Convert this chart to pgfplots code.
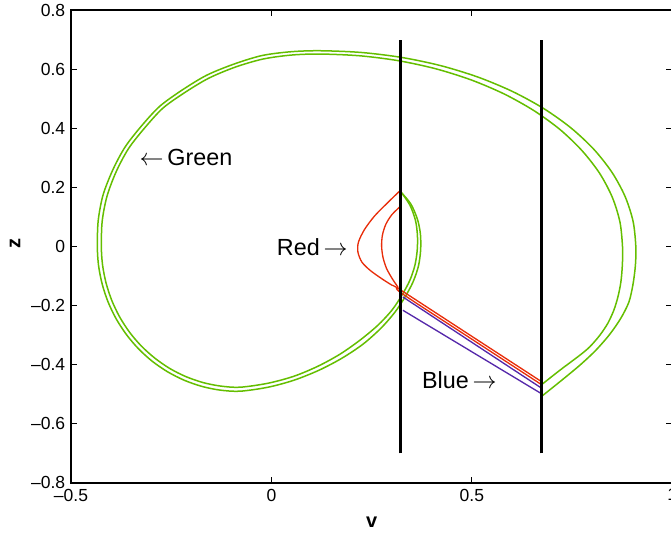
\documentclass[border=0pt]{standalone}
\usepackage{pgfplots}
\pgfplotsset{compat=1.18}
\usepackage{fontspec}
\setmainfont{Liberation Sans}
\definecolor{mgreen}{RGB}{100,190,0}
\definecolor{mred}{RGB}{232,45,10}
\definecolor{mblue}{RGB}{85,40,170}
\begin{document}
\begin{tikzpicture}
\useasboundingbox (-42.6pt,-31.4pt) rectangle (359.8pt,289.6pt);
\clip (-42.6pt,-31.4pt) rectangle (359.8pt,289.6pt);
\begin{axis}[at={(0,0)}, anchor=south west, scale only axis,
  width=360.6pt, height=283.6pt,
  xmin=-0.5, xmax=1, ymin=-0.8, ymax=0.8,
  xtick={-0.5,0,0.5,1}, xticklabels={--0.5,0,0.5,1},
  ytick={-0.8,-0.6,-0.4,-0.2,0,0.2,0.4,0.6,0.8},
  yticklabels={--0.8,--0.6,--0.4,--0.2,0,0.2,0.4,0.6,0.8},
  tick align=inside, major tick length=3.5pt,
  tick style={black, line width=0.6pt},
  axis line style={line width=0.9pt},
  ticklabel style={font=\fontsize{10.5}{12}\selectfont},
  xlabel={\textbf{v}}, ylabel={\textbf{z}},
  label style={font=\fontsize{12}{14}\selectfont},
  xlabel style={at={(axis description cs:0.5,-0.083)}, anchor=center},
  ylabel style={at={(axis description cs:-0.093,0.507)}, anchor=center},
]
% green trajectories (inner)
\addplot[mgreen, line width=0.9pt, smooth] coordinates {
(0.3247,0.1814)(0.3454,0.1398)(0.3591,0.0890)(0.3641,0.0383)(0.3636,-0.0125)
(0.3579,-0.0633)(0.3454,-0.1141)(0.3254,-0.1649)(0.3005,-0.2156)(0.2656,-0.2664)
(0.2207,-0.3172)(0.1708,-0.3646)(0.1160,-0.4052)(0.0561,-0.4391)(-0.0087,-0.4628)
(-0.0786,-0.4763)
(-0.1279,-0.4722)(-0.1718,-0.4601)(-0.2140,-0.4401)(-0.2539,-0.4127)(-0.2910,-0.3778)
(-0.3247,-0.3368)(-0.3541,-0.2901)(-0.3788,-0.2383)(-0.3985,-0.1821)(-0.4127,-0.1232)
(-0.4214,-0.0623)(-0.4244,0)
(-0.4222,0.0863)(-0.4102,0.1703)(-0.3873,0.2532)(-0.3566,0.3311)(-0.3160,0.4015)
(-0.2706,0.4682)(-0.2145,0.5223)(-0.1559,0.5697)(-0.0898,0.6070)(-0.0212,0.6341)
(0.0499,0.6476)(0.1209,0.6510)
(0.2195,0.6452)(0.3162,0.6286)(0.4097,0.6012)(0.4985,0.5633)(0.5805,0.5159)
(0.6546,0.4597)(0.7200,0.3954)(0.7746,0.3243)(0.8185,0.2478)(0.8501,0.1669)
(0.8693,0.0829)(0.8758,-0.0024)
(0.8753,-0.0633)(0.8716,-0.1209)(0.8641,-0.1716)(0.8541,-0.2156)(0.8392,-0.2596)
(0.8192,-0.3003)(0.7943,-0.3392)(0.7693,-0.3680)(0.7195,-0.4188)(0.6721,-0.4695)};
% green trajectories (outer)
\addplot[mgreen, line width=0.9pt, smooth] coordinates {
(0.3247,0.1814)(0.3479,0.1432)(0.3641,0.0924)(0.3716,0.0416)(0.3721,-0.0125)
(0.3666,-0.0667)(0.3529,-0.1209)(0.3329,-0.1716)(0.3080,-0.2224)(0.2731,-0.2766)
(0.2282,-0.3307)(0.1758,-0.3781)(0.1185,-0.4188)(0.0561,-0.4526)(-0.0087,-0.4763)
(-0.0786,-0.4898)
(-0.1294,-0.4858)(-0.1743,-0.4732)(-0.2177,-0.4526)(-0.2590,-0.4242)(-0.2973,-0.3886)
(-0.3317,-0.3463)(-0.3618,-0.2982)(-0.3874,-0.2449)(-0.4077,-0.1875)(-0.4224,-0.1268)
(-0.4314,-0.0640)(-0.4344,0)
(-0.4322,0.0877)(-0.4202,0.1737)(-0.3963,0.2576)(-0.3653,0.3362)(-0.3239,0.4083)
(-0.2781,0.4750)(-0.2207,0.5311)(-0.1608,0.5799)(-0.0935,0.6171)(-0.0237,0.6459)
(0.0484,0.6588)(0.1209,0.6622)
(0.2237,0.6564)(0.3249,0.6395)(0.4224,0.6117)(0.5150,0.5731)(0.6007,0.5247)
(0.6781,0.4675)(0.7461,0.4022)(0.8035,0.3297)(0.8489,0.2519)(0.8820,0.1696)
(0.9022,0.0843)(0.9090,-0.0024)
(0.9077,-0.0667)(0.9015,-0.1310)(0.8915,-0.1886)(0.8716,-0.2427)(0.8441,-0.2969)
(0.8092,-0.3511)(0.7693,-0.4018)(0.7195,-0.4577)(0.6721,-0.5091)};
% red trajectories
\addplot[mred, line width=0.8pt, smooth] coordinates {
(0.3204,0.1882)(0.2880,0.1456)(0.2569,0.1026)(0.2319,0.0569)(0.2170,0.0146)
(0.2157,-0.0193)(0.2257,-0.0531)(0.2456,-0.0802)(0.2731,-0.1073)(0.3005,-0.1310)
(0.3229,-0.1479)(0.4975,-0.3020)(0.6721,-0.4560)};
\addplot[mred, line width=0.8pt, smooth] coordinates {
(0.3204,0.1341)(0.3005,0.1077)(0.2855,0.0755)(0.2768,0.0383)(0.2748,0.0010)
(0.2781,-0.0362)(0.2868,-0.0735)(0.3005,-0.1073)(0.3155,-0.1378)(0.3254,-0.1591)
(0.4988,-0.3128)(0.6721,-0.4661)};
% blue trajectories
\addplot[mblue, line width=0.8pt] coordinates {(0.3279,-0.171)(0.6721,-0.478)};
\addplot[mblue, line width=0.8pt] coordinates {(0.3279,-0.216)(0.6721,-0.497)};
% black sections
\addplot[black, line width=1.8pt] coordinates {(0.323,-0.7)(0.323,0.7)};
\addplot[black, line width=1.8pt] coordinates {(0.674,-0.7)(0.674,0.7)};
\node[anchor=west, inner sep=0pt, font=\fontsize{14}{16}\selectfont] at (axis cs:-0.330,0.302) {$\leftarrow$\,Green};
\node[anchor=east, inner sep=0pt, font=\fontsize{14}{16}\selectfont] at (axis cs:0.191,-0.002) {Red\,$\rightarrow$};
\node[anchor=west, inner sep=0pt, font=\fontsize{14}{16}\selectfont] at (axis cs:0.375,-0.453) {Blue\,$\rightarrow$};
\end{axis}
\end{tikzpicture}
\end{document}
